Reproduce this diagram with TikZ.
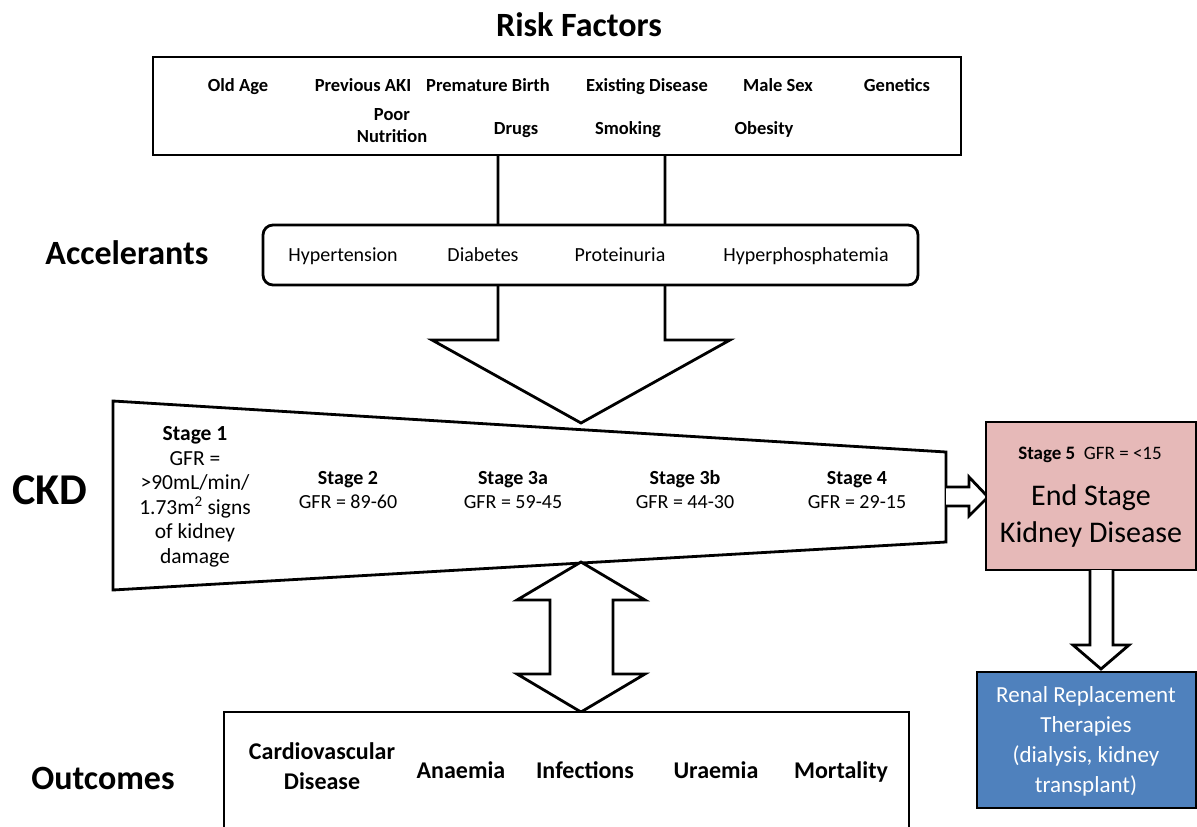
\documentclass[tikz,border=0pt]{standalone}
\usepackage{fontspec}
\setmainfont{Carlito}
\definecolor{esrdpink}{RGB}{230,185,184}
\definecolor{rrtblue}{RGB}{79,129,189}
\begin{document}
\begin{tikzpicture}[x=1pt,y=-1pt,
  lw/.style={line width=2.8pt, line join=miter},
  boxstyle/.style={draw, lw, fill=white, inner sep=0pt},
  blockarrow/.style={draw, lw, fill=white},
  title/.style={font=\fontsize{34}{40}\selectfont\bfseries, inner sep=0pt, text height=22pt, text depth=0pt},
  ckdtitle/.style={font=\fontsize{44}{50}\selectfont\bfseries, inner sep=0pt, text height=28pt, text depth=0pt},
  riskitem/.style={font=\fontsize{18.5}{22}\selectfont\bfseries, inner sep=0pt, align=center},
  riskone/.style={riskitem, text height=12pt, text depth=0pt},
  accitem/.style={font=\fontsize{20}{24}\selectfont, inner sep=0pt, text height=13pt, text depth=0pt},
  stageitem/.style={font=\fontsize{20}{24}\selectfont, inner sep=0pt, align=center},
  outitem/.style={font=\fontsize{24}{30}\selectfont\bfseries, inner sep=0pt, align=center},
  outone/.style={outitem, text height=15.5pt, text depth=0pt},
  rrtitem/.style={font=\fontsize{23}{30}\selectfont, text=white, inner sep=0pt, align=center}
]
\useasboundingbox (0,0) rectangle (1197,827);

% big down arrow (risk factors -> CKD)
\draw[blockarrow] (498,150) -- (498,340) -- (432,340) -- (581,423) -- (730,340) -- (665,340) -- (665,150) -- cycle;

% risk factors box
\node[boxstyle, minimum width=808pt, minimum height=98pt] (risk) at (557,106) {};
\node[title] (risktitle) at (579,25) {Risk Factors};
\node[riskone] (r1) at (238,85) {Old Age};
\node[riskone] (r2) at (363,85) {Previous AKI};
\node[riskone] (r3) at (488,85) {Premature Birth};
\node[riskone] (r4) at (647,85) {Existing Disease};
\node[riskone] (r5) at (778,85) {Male Sex};
\node[riskone] (r6) at (897,85) {Genetics};
\node[riskitem] (r7) at (392,126) {Poor\\Nutrition};
\node[riskone] (r8) at (516,128) {Drugs};
\node[riskone] (r9) at (628,128) {Smoking};
\node[riskone] (r10) at (764,128) {Obesity};

% accelerants box
\node[boxstyle, rounded corners=10pt, minimum width=655pt, minimum height=60pt] (acc) at (590.5,255) {};
\node[title] (acctitle) at (127,253) {Accelerants};
\node[accitem] (a1) at (343,255) {Hypertension};
\node[accitem] (a2) at (483,255) {Diabetes};
\node[accitem] (a3) at (620,255) {Proteinuria};
\node[accitem] (a4) at (806,255) {Hyperphosphatemia};

% CKD trapezoid
\draw[lw, fill=white] (113,401) -- (946,452) -- (946,542) -- (113,590) -- cycle;
\coordinate (ckd) at (530,496);
\node[ckdtitle] (ckdtitle) at (50,490) {CKD};
\node[stageitem, font=\fontsize{21.5}{24.5}\selectfont] (s1) at (195,497) {\textbf{Stage 1}\\GFR =\\>90mL/min/\\1.73m\textsuperscript{2} signs\\of kidney\\damage};
\node[stageitem] (s2) at (348,490) {\textbf{Stage 2}\\GFR = 89-60};
\node[stageitem] (s3a) at (513,490) {\textbf{Stage 3a}\\GFR = 59-45};
\node[stageitem] (s3b) at (685,490) {\textbf{Stage 3b}\\GFR = 44-30};
\node[stageitem] (s4) at (857,490) {\textbf{Stage 4}\\GFR = 29-15};

% double arrow CKD <-> outcomes
\draw[blockarrow] (581,562) -- (645,600) -- (613,600) -- (613,674) -- (645,674) -- (581,712) -- (517,674) -- (550,674) -- (550,600) -- (517,600) -- cycle;

% outcomes box (open at the bottom edge of the picture)
\draw[lw, fill=white] (224,830) -- (224,712) -- (909,712) -- (909,830);
\coordinate (outcomes) at (566,770);
\node[title] (outtitle) at (103,778) {Outcomes};
\node[outitem] (o1) at (322,766) {Cardiovascular\\Disease};
\node[outone] (o2) at (461,771) {Anaemia};
\node[outone] (o3) at (585,771) {Infections};
\node[outone] (o4) at (716,771) {Uraemia};
\node[outone] (o5) at (841,771) {Mortality};

% right arrow CKD -> stage 5
\draw[blockarrow] (946,487) -- (969,487) -- (969,477) -- (988,497) -- (969,516) -- (969,506) -- (946,506);

% stage 5 box
\node[boxstyle, fill=esrdpink, minimum width=210pt, minimum height=148pt] (esrd) at (1091,496) {};
\node[inner sep=0pt, font=\fontsize{19}{22}\selectfont, text height=12.5pt, text depth=0pt] (s5) at (1090,453) {\textbf{Stage 5}\ \ GFR = <15};
\node[inner sep=0pt, align=center, font=\fontsize{30}{37}\selectfont] (esrdtext) at (1091,516) {End Stage\\Kidney Disease};

% down arrow stage 5 -> RRT
\draw[blockarrow] (1090,570) -- (1090,645) -- (1073,645) -- (1101,669) -- (1129,645) -- (1113,645) -- (1113,570);

% RRT box
\node[boxstyle, fill=rrtblue, minimum width=219pt, minimum height=136pt] (rrt) at (1086.5,740) {};
\node[rrtitem] (rrttext) at (1086,741) {Renal Replacement\\Therapies\\(dialysis, kidney\\transplant)};
\end{tikzpicture}
\end{document}
